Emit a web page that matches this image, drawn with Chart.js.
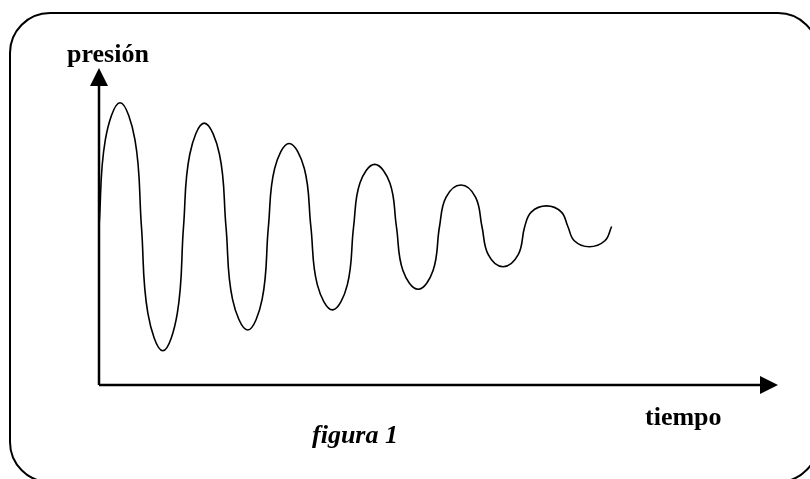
<!DOCTYPE html>
<html>
<head>
<meta charset="utf-8">
<title>figura 1</title>
<script src="https://cdn.jsdelivr.net/npm/chart.js@4"></script>
<style>
    html, body {
        margin: 0;
        padding: 0;
        background: #fff;
    }
    #chart {
        display: block;
    }
</style>
</head>
<body>
<canvas id="chart" width="810" height="479"></canvas>
<script>
// Values (time 0-100, pressure 0-100, rest level 50)
const tiempo = [
    0, 0.93, 3.1, 5.3, 6.25,
    7.2, 9.4, 11.53, 12.45,
    13.37, 15.5, 17.74, 18.7,
    19.66, 21.9, 24.03, 24.95,
    25.87, 28.0, 30.24, 31.2,
    32.16, 34.4, 36.57, 37.5,
    38.43, 40.6, 42.84, 43.8,
    44.76, 47.0, 49.2, 50.15,
    51.1, 53.3, 55.47, 56.4,
    57.33, 59.5, 61.74, 62.7,
    63.66, 65.9, 68.1, 69.05,
    70.0, 72.2, 74.5, 75.5
];
const presion = [
    50, 77.3, 89.05, 77.3, 50,
    22.6, 10.8, 22.6, 50,
    72.8, 82.6, 72.8, 50,
    27.1, 17.35, 27.1, 50,
    68.3, 76.2, 68.3, 50,
    31.6, 23.7, 31.6, 50,
    63.7, 69.6, 63.7, 50,
    36.1, 30.2, 36.1, 50,
    59.2, 63.1, 59.2, 50,
    41.1, 37.3, 41.1, 50,
    54.55, 56.5, 54.55, 50,
    45.5, 43.6, 45.5, 50
];
const ejeX = 'tiempo';
const ejeY = 'presión';
const titulo = 'figura 1';

// Frame, arrows and labels drawn around the chart area
const decoracion = {
    id: 'decoracion',
    beforeDraw(chart) {
        const ctx = chart.ctx;
        ctx.save();
        ctx.fillStyle = '#fff';
        ctx.fillRect(0, 0, chart.width, chart.height);
        ctx.restore();
    },
    afterDraw(chart) {
        const ctx = chart.ctx;
        const a = chart.chartArea;
        ctx.save();

        // rounded frame, right and bottom edges run off the page
        ctx.strokeStyle = '#000';
        ctx.lineWidth = 2;
        ctx.beginPath();
        ctx.roundRect(10, 13, 808, 469, 40);
        ctx.stroke();

        // axes
        ctx.lineWidth = 2.5;
        ctx.beginPath();
        ctx.moveTo(a.left, a.bottom);
        ctx.lineTo(a.left, a.top + 16);
        ctx.moveTo(a.left, a.bottom);
        ctx.lineTo(a.right - 16, a.bottom);
        ctx.stroke();

        // arrow heads
        ctx.fillStyle = '#000';
        ctx.beginPath();
        ctx.moveTo(a.left, a.top);
        ctx.lineTo(a.left - 9, a.top + 18);
        ctx.lineTo(a.left + 9, a.top + 18);
        ctx.closePath();
        ctx.fill();
        ctx.beginPath();
        ctx.moveTo(a.right, a.bottom);
        ctx.lineTo(a.right - 18, a.bottom - 9);
        ctx.lineTo(a.right - 18, a.bottom + 9);
        ctx.closePath();
        ctx.fill();

        // labels
        ctx.textBaseline = 'alphabetic';
        ctx.textAlign = 'left';
        ctx.font = 'bold 26px "Liberation Serif", "Times New Roman", serif';
        ctx.fillText(ejeY, 67, 62);
        ctx.fillText(ejeX, 645, 425);
        ctx.font = 'italic bold 26px "Liberation Serif", "Times New Roman", serif';
        ctx.fillText(titulo, 312, 443);
        ctx.restore();
    }
};

document.addEventListener('DOMContentLoaded', function() {
    const ctx = document.getElementById('chart').getContext('2d');
    new Chart(ctx, {
        type: 'line',
        data: {
            datasets: [{
                label: ejeY,
                data: tiempo.map((t, i) => ({ x: t, y: presion[i] })),
                borderColor: '#000',
                borderWidth: 1.6,
                pointRadius: 0,
                fill: false,
                tension: 0.4
            }]
        },
        options: {
            responsive: false,
            animation: false,
            layout: {
                padding: { left: 99, right: 32, top: 68, bottom: 94 }
            },
            plugins: {
                legend: { display: false },
                tooltip: { enabled: false }
            },
            scales: {
                x: { type: 'linear', min: 0, max: 100, display: false },
                y: { type: 'linear', min: 0, max: 100, display: false }
            }
        },
        plugins: [decoracion]
    });
});
</script>
</body>
</html>
